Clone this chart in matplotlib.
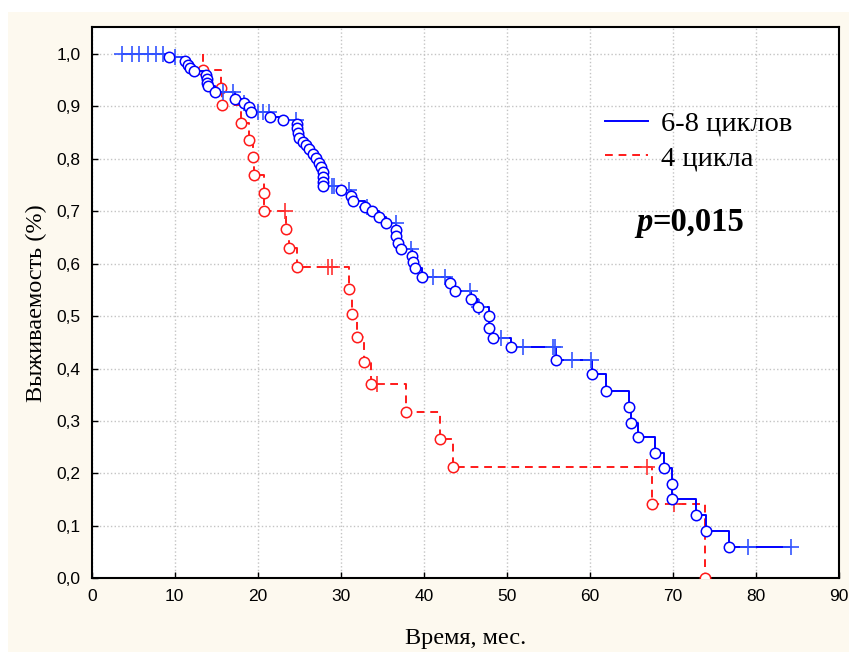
import numpy as np
import matplotlib.pyplot as plt
from matplotlib.patches import Rectangle
from matplotlib.ticker import FuncFormatter, MultipleLocator

## Data ##
# 6-8 cycles: event times (circles) and survival after each event
blue_event_t = [9.3, 11.2, 11.6, 11.8, 12.3, 13.8, 13.9, 13.9, 14.0, 14.8,
                17.2, 18.3, 18.9, 19.2, 21.5, 23.0, 24.7, 24.7, 24.8, 25.0,
                25.4, 25.8, 26.2, 26.6, 27.0, 27.4, 27.6, 27.8, 27.8, 27.8,
                27.8, 30.0, 31.2, 31.5, 32.9, 33.8, 34.6, 35.5, 36.7, 36.7,
                36.9, 37.3, 38.6, 38.7, 38.9, 39.8, 43.2, 43.8, 45.7, 46.5,
                47.8, 47.8, 48.3, 50.5, 55.9, 60.3, 61.9, 64.7, 64.9, 65.8,
                67.9, 68.9, 69.9, 69.9, 72.8, 74.0, 76.8]
blue_event_s = [0.995, 0.987, 0.979, 0.973, 0.968, 0.960, 0.952, 0.945, 0.939, 0.928,
                0.915, 0.906, 0.899, 0.890, 0.880, 0.874, 0.866, 0.858, 0.849, 0.840,
                0.833, 0.826, 0.818, 0.809, 0.801, 0.793, 0.785, 0.775, 0.766, 0.756,
                0.748, 0.741, 0.730, 0.720, 0.709, 0.700, 0.690, 0.677, 0.664, 0.653,
                0.640, 0.628, 0.614, 0.603, 0.591, 0.575, 0.563, 0.548, 0.533, 0.518,
                0.500, 0.478, 0.459, 0.441, 0.417, 0.389, 0.358, 0.327, 0.297, 0.270,
                0.239, 0.210, 0.179, 0.152, 0.120, 0.090, 0.059]
blue_cens_t = [3.6, 4.8, 5.7, 6.8, 7.8, 8.6, 10.0, 15.8, 17.0, 18.4, 20.0, 20.6,
               21.4, 24.6, 29.0, 29.2, 31.0, 33.1, 36.6, 38.5, 41.1, 42.6, 45.6,
               46.7, 49.3, 51.9, 55.5, 55.8, 57.9, 60.1, 79.1, 84.2]

# 4 cycles
red_event_t = [13.4, 15.6, 15.7, 18.0, 18.9, 19.4, 19.6, 20.7, 20.7, 23.4,
               23.8, 24.7, 31.0, 31.3, 31.9, 32.8, 33.6, 37.8, 41.9, 43.5,
               67.5, 73.9]
red_event_s = [0.970, 0.936, 0.903, 0.869, 0.836, 0.803, 0.769, 0.734, 0.700, 0.667,
               0.630, 0.594, 0.552, 0.505, 0.461, 0.413, 0.370, 0.317, 0.265, 0.213,
               0.141, 0.0]
red_cens_t = [23.3, 28.4, 29.0, 34.4, 66.9, 70.1]

legend_labels = ["6-8 циклов", "4 цикла"]
p_text = "=0,015"


def level_at(times, surv, t):
    i = np.searchsorted(times, t, side="right") - 1
    return 1.0 if i < 0 else surv[i]


def draw_km(ax, ev_t, ev_s, cens_t, start, end, color, plus_color, ls, label, z):
    x = [start] + list(ev_t) + [end]
    y = [1.0] + list(ev_s) + [ev_s[-1]]
    ax.step(x, y, where="post", color=color, lw=1.4, ls=ls, label=label, zorder=z)
    cy = [level_at(ev_t, ev_s, c) for c in cens_t]
    ax.plot(cens_t, cy, ls="none", marker="+", ms=11, mew=1.2,
            color=plus_color, zorder=z + 1)
    ax.plot(ev_t, ev_s, ls="none", marker="o", ms=7.5, mfc="white",
            mec=color, mew=1.1, zorder=z + 2)


## Figure ##
fig = plt.figure(figsize=(8.49, 6.52), dpi=100)
fig.patch.set_facecolor("white")
fig.patches.append(Rectangle((8 / 849, 0), 1, 640 / 652, transform=fig.transFigure,
                             facecolor="#fdf9ef", edgecolor="none", zorder=-10))

ax = fig.add_axes([0.108, 0.113, 0.8802, 0.8456])
ax.set_facecolor("white")

draw_km(ax, red_event_t, red_event_s, red_cens_t, 13.4, 73.9,
        "#ff1a1a", "#ff3030", (0, (4, 3)), legend_labels[1], 3)
draw_km(ax, blue_event_t, blue_event_s, blue_cens_t, 3.6, 84.2,
        "#0000ff", "#3355ff", "-", legend_labels[0], 6)

ax.set_xlim(0, 90)
ax.set_ylim(0, 1.0515)
ax.xaxis.set_major_locator(MultipleLocator(10))
ax.yaxis.set_major_locator(MultipleLocator(0.1))
ax.yaxis.set_major_formatter(FuncFormatter(lambda v, p: f"{v:.1f}".replace(".", ",")))
ax.tick_params(direction="in", length=4, width=1, pad=8, labelsize=12.5)
for lab in ax.get_xticklabels() + ax.get_yticklabels():
    lab.set_family("Liberation Sans")
ax.grid(True, color="#c4c4c4", ls=":", lw=1)
ax.set_axisbelow(True)
for s in ax.spines.values():
    s.set_linewidth(1.5)
    s.set_color("black")

ax.set_xlabel("Время, мес.", family="Liberation Serif", fontsize=17.5, labelpad=17)
ax.set_ylabel("Выживаемость (%)", family="Liberation Serif", fontsize=17.5, labelpad=7)

handles, labels = ax.get_legend_handles_labels()
order = [labels.index(l) for l in legend_labels]
leg = fig.legend([handles[i] for i in order], legend_labels, loc="upper left",
                 bbox_to_anchor=(0.7126, 0.830), frameon=False, borderpad=0,
                 borderaxespad=0, handlelength=1.5, handletextpad=0.45,
                 labelspacing=0.3, prop={"family": "Liberation Serif", "size": 20.5})

t1 = fig.text(636 / 849, 1 - 231 / 652, "p", family="Liberation Serif", fontsize=23.5,
              fontweight="bold", style="italic", ha="left", va="baseline")
ax.annotate(p_text, xy=(1, 0), xycoords=t1, va="bottom", ha="left",
            family="Liberation Serif", fontsize=23.5, fontweight="bold")

plt.savefig("out.png", dpi=100)
plt.close()
